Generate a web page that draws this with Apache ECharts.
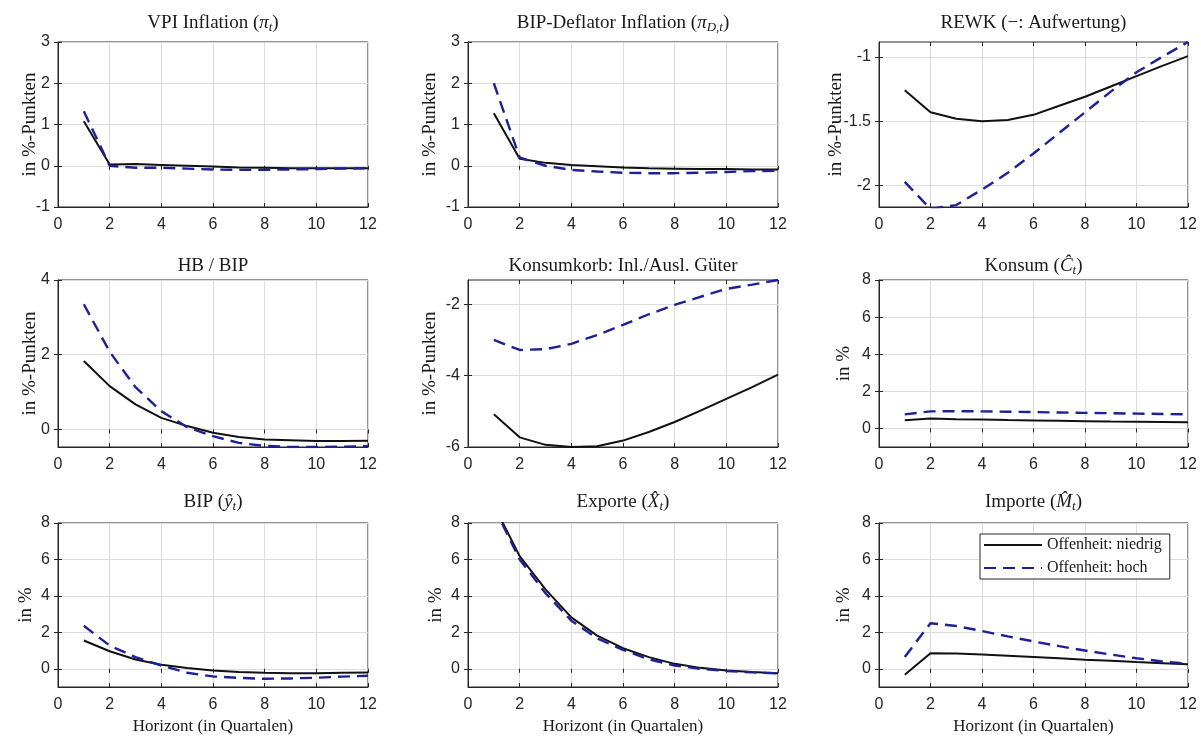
<!DOCTYPE html>
<html>
<head>
<meta charset="utf-8">
<script src="https://cdn.jsdelivr.net/npm/echarts@6/dist/echarts.min.js"></script>
<style>
  html, body { margin: 0; padding: 0; background: #ffffff; }
  #chart { width: 1201px; height: 737px; }
</style>
</head>
<body>
<div id="chart"></div>
<script>
// Horizon (quarters) shared by all panels
const horizon = [1, 2, 3, 4, 5, 6, 7, 8, 9, 10, 11, 12];

// Impulse responses: low openness (solid) vs. high openness (dashed)
const vpiLow   = [1.08, 0.03, 0.04, 0.02, 0.00, -0.02, -0.04, -0.05, -0.06, -0.06, -0.06, -0.06];
const vpiHigh  = [1.32, 0.00, -0.05, -0.05, -0.07, -0.09, -0.10, -0.10, -0.09, -0.08, -0.07, -0.06];

const deflLow  = [1.27, 0.17, 0.07, 0.02, -0.01, -0.04, -0.06, -0.07, -0.08, -0.08, -0.09, -0.09];
const deflHigh = [2.00, 0.20, 0.00, -0.10, -0.14, -0.17, -0.18, -0.18, -0.17, -0.15, -0.13, -0.12];

const rewkLow  = [-1.26, -1.43, -1.48, -1.50, -1.49, -1.45, -1.38, -1.31, -1.23, -1.15, -1.07, -0.995];
const rewkHigh = [-1.97, -2.18, -2.15, -2.03, -1.90, -1.75, -1.59, -1.43, -1.27, -1.12, -1.00, -0.885];

const hbLow    = [1.83, 1.16, 0.67, 0.31, 0.09, -0.09, -0.20, -0.27, -0.29, -0.31, -0.31, -0.30];
const hbHigh   = [3.35, 2.08, 1.13, 0.49, 0.06, -0.18, -0.36, -0.44, -0.47, -0.47, -0.46, -0.45];

const korbLow  = [-5.08, -5.73, -5.94, -6.00, -5.98, -5.82, -5.58, -5.30, -4.98, -4.65, -4.32, -3.97];
const korbHigh = [-3.00, -3.28, -3.26, -3.11, -2.86, -2.58, -2.28, -2.02, -1.79, -1.57, -1.45, -1.32];

const konsLow  = [0.44, 0.53, 0.50, 0.48, 0.45, 0.43, 0.41, 0.39, 0.37, 0.36, 0.35, 0.34];
const konsHigh = [0.76, 0.92, 0.93, 0.92, 0.90, 0.88, 0.86, 0.84, 0.82, 0.80, 0.78, 0.76];

const bipLow   = [1.55, 0.96, 0.51, 0.22, 0.04, -0.09, -0.18, -0.22, -0.24, -0.24, -0.22, -0.20];
const bipHigh  = [2.36, 1.27, 0.64, 0.18, -0.22, -0.42, -0.50, -0.55, -0.53, -0.49, -0.43, -0.38];

const expLow   = [8.98, 6.18, 4.36, 2.82, 1.82, 1.13, 0.64, 0.27, 0.05, -0.09, -0.18, -0.24];
const expHigh  = [8.90, 6.00, 4.15, 2.64, 1.67, 1.04, 0.52, 0.18, 0.00, -0.12, -0.20, -0.25];

const impLow   = [-0.33, 0.85, 0.84, 0.78, 0.72, 0.65, 0.58, 0.50, 0.44, 0.37, 0.31, 0.25];
const impHigh  = [0.65, 2.50, 2.35, 2.07, 1.78, 1.50, 1.24, 1.00, 0.78, 0.58, 0.40, 0.28];

// y-axis tick values per panel
const ticksInfl = [-1, 0, 1, 2, 3];
const ticksRewk = [-2, -1.5, -1];
const ticksHb   = [0, 2, 4];
const ticksKorb = [-6, -4, -2];
const ticksPct  = [0, 2, 4, 6, 8];

const seriesNames = ['Offenheit: niedrig', 'Offenheit: hoch'];
const yNamePts = 'in %-Punkten';
const yNamePct = 'in %';
const xName = 'Horizont (in Quartalen)';

const SERIF = '"Liberation Serif", "DejaVu Serif", serif';
const SANS = '"Liberation Sans", Arial, sans-serif';
const INK = '#262626';
const TEXT = '#1a1a1a';
const SOLID = '#111111';
const DASH = '#1f1f96';
const GRIDLINE = '#dcdcdc';

const panels = [
  { title: '{n|VPI Inflation (}{m|π}{s|t}{n|)}', yName: yNamePts, min: -1, max: 3, ticks: ticksInfl, low: vpiLow, high: vpiHigh },
  { title: '{n|BIP-Deflator Inflation (}{m|π}{s|D,t}{n|)}', yName: yNamePts, min: -1, max: 3, ticks: ticksInfl, low: deflLow, high: deflHigh },
  { title: '{n|REWK (−: Aufwertung)}', yName: yNamePts, min: -2.165, max: -0.885, ticks: ticksRewk, low: rewkLow, high: rewkHigh },
  { title: '{n|HB / BIP}', yName: yNamePts, min: -0.47, max: 4, ticks: ticksHb, low: hbLow, high: hbHigh },
  { title: '{n|Konsumkorb: Inl./Ausl. Güter}', yName: yNamePts, min: -6, max: -1.32, ticks: ticksKorb, low: korbLow, high: korbHigh },
  { title: '{n|Konsum (}{m|Ĉ}{s|t}{n|)}', yName: yNamePct, min: -1, max: 8, ticks: ticksPct, low: konsLow, high: konsHigh },
  { title: '{n|BIP (}{m|ŷ}{s|t}{n|)}', yName: yNamePct, min: -1, max: 8, ticks: ticksPct, low: bipLow, high: bipHigh },
  { title: '{n|Exporte (}{m|X̂}{s|t}{n|)}', yName: yNamePct, min: -1, max: 8, ticks: ticksPct, low: expLow, high: expHigh },
  { title: '{n|Importe (}{m|M̂}{s|t}{n|)}', yName: yNamePct, min: -1, max: 8, ticks: ticksPct, low: impLow, high: impHigh }
];

// Layout of the 3x3 panel grid (pixels)
const colLeft = [58, 468, 879];
const colWidth = [310, 310, 309];
const rowTop = [42, 280, 523];
const rowHeight = [165, 167, 164];
const titleY = [23, 266, 502];
const yNameGap = [18, 28, 33, 18, 28, 25, 22, 22, 25];

const grids = [], xAxes = [], yAxes = [], titles = [], series = [];
const mirrorX = [], mirrorY = [];

panels.forEach((p, i) => {
  const r = Math.floor(i / 3), c = i % 3;
  grids.push({
    left: colLeft[c], top: rowTop[r], width: colWidth[c], height: rowHeight[r],
    show: true, borderColor: INK, borderWidth: 1, backgroundColor: '#ffffff'
  });
  titles.push({
    text: p.title,
    left: colLeft[c] + colWidth[c] / 2,
    top: titleY[r],
    textAlign: 'center',
    textVerticalAlign: 'middle',
    padding: 0,
    textStyle: {
      fontWeight: 'normal',
      rich: {
        n: { fontFamily: SERIF, fontSize: 19, fontWeight: 'normal', color: TEXT },
        m: { fontFamily: SERIF, fontSize: 19, fontWeight: 'normal', fontStyle: 'italic', color: TEXT },
        s: { fontFamily: SERIF, fontSize: 13, fontWeight: 'normal', fontStyle: 'italic', color: TEXT, padding: [9, 0, 0, 0] }
      }
    }
  });
  xAxes.push({
    type: 'value', gridIndex: i, min: 0, max: 12, interval: 2,
    name: r === 2 ? xName : '',
    nameLocation: 'middle', nameGap: 31,
    nameTextStyle: { fontFamily: SERIF, fontSize: 17, color: TEXT },
    axisLine: { show: true, onZero: false, lineStyle: { color: INK, width: 1 } },
    axisTick: { show: true, inside: true, length: 4, lineStyle: { color: INK } },
    axisLabel: { show: true, margin: 10, fontFamily: SANS, fontSize: 16, color: INK },
    splitLine: { show: true, lineStyle: { color: GRIDLINE, width: 1 } }
  });
  yAxes.push({
    type: 'value', gridIndex: i, min: p.min, max: p.max,
    name: p.yName, nameLocation: 'middle', nameRotate: 90, nameGap: yNameGap[i],
    nameMoveOverlap: false,
    nameTextStyle: { fontFamily: SERIF, fontSize: 19, color: TEXT },
    axisLine: { show: true, onZero: false, lineStyle: { color: INK, width: 1 } },
    axisTick: { show: true, inside: true, length: 4, lineStyle: { color: INK }, customValues: p.ticks },
    axisLabel: { show: true, margin: 8, fontFamily: SANS, fontSize: 16, color: INK, customValues: p.ticks },
    splitLine: { show: true, lineStyle: { color: GRIDLINE, width: 1 } }
  });
  // Mirrored tick marks on the top and right edges of each box
  mirrorX.push({
    type: 'value', gridIndex: i, position: 'top', min: 0, max: 12, interval: 2,
    axisLine: { show: false }, axisLabel: { show: false }, splitLine: { show: false },
    axisTick: { show: true, inside: true, length: 4, lineStyle: { color: INK } }
  });
  mirrorY.push({
    type: 'value', gridIndex: i, position: 'right', min: p.min, max: p.max,
    axisLine: { show: false }, splitLine: { show: false },
    axisLabel: { show: false, customValues: p.ticks },
    axisTick: { show: true, inside: true, length: 4, lineStyle: { color: INK }, customValues: p.ticks }
  });
  series.push({
    name: seriesNames[0], type: 'line', xAxisIndex: i, yAxisIndex: i,
    data: horizon.map((h, k) => [h, p.low[k]]),
    symbol: 'none', clip: true, z: 3,
    lineStyle: { color: SOLID, width: 2, type: 'solid' },
    itemStyle: { color: SOLID }
  });
  series.push({
    name: seriesNames[1], type: 'line', xAxisIndex: i, yAxisIndex: i,
    data: horizon.map((h, k) => [h, p.high[k]]),
    symbol: 'none', clip: true, z: 4,
    lineStyle: { color: DASH, width: 2.4, type: [12, 7] },
    itemStyle: { color: DASH }
  });
});

const chart = echarts.init(document.getElementById('chart'), null, { renderer: 'canvas' });
chart.setOption({
  animation: false,
  backgroundColor: '#ffffff',
  title: titles,
  grid: grids,
  xAxis: xAxes.concat(mirrorX),
  yAxis: yAxes.concat(mirrorY),
  legend: {
    data: seriesNames,
    orient: 'vertical',
    left: 980, top: 534,
    itemWidth: 58, itemHeight: 14, itemGap: 7,
    padding: [3, 8, 3, 3],
    borderColor: INK, borderWidth: 1, backgroundColor: '#ffffff',
    selectedMode: false,
    itemStyle: { opacity: 0 },
    textStyle: { fontFamily: SERIF, fontSize: 16, color: TEXT },
    z: 10
  },
  series: series
});
</script>
</body>
</html>
